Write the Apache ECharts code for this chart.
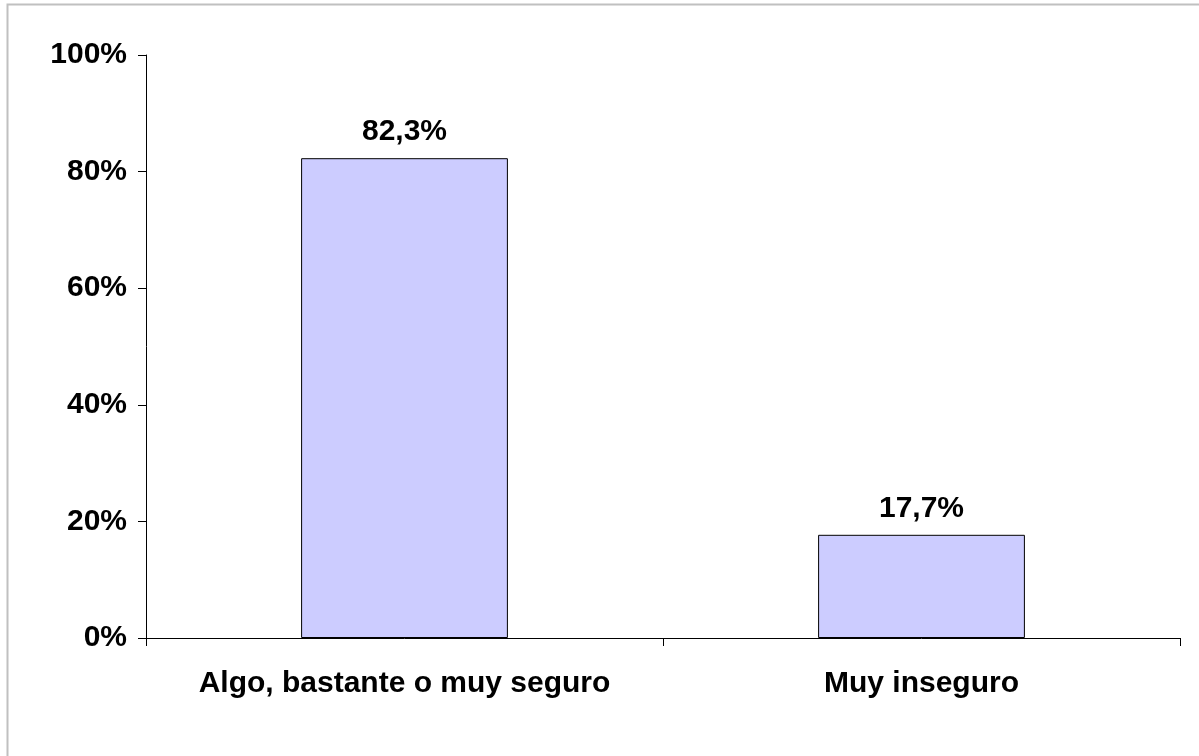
<!DOCTYPE html>
<html>
<head>
<meta charset="utf-8">
<script src="https://cdn.jsdelivr.net/npm/echarts@6/dist/echarts.min.js"></script>
<style>
html,body{margin:0;padding:0;background:#fff;}
#chart{width:1199px;height:756px;}
</style>
</head>
<body>
<div id="chart"></div>
<script>
const categories = ['Algo, bastante o muy seguro', 'Muy inseguro'];
const values = [82.3, 17.7];
const yTicks = [0, 20, 40, 60, 80, 100];

const chart = echarts.init(document.getElementById('chart'), null, {renderer: 'canvas'});
const font = '"Liberation Sans", Arial, sans-serif';
chart.setOption({
  animation: false,
  backgroundColor: '#ffffff',
  graphic: [{
    type: 'polyline',
    shape: {points: [[7.5, 756], [7.5, 4.5], [1199, 4.5]]},
    style: {stroke: '#c0c0c0', lineWidth: 2, fill: null},
    silent: true
  }],
  grid: {left: 146, right: 19, top: 55, bottom: 118, containLabel: false},
  xAxis: {
    type: 'category',
    data: categories,
    axisLine: {lineStyle: {color: '#000', width: 1}},
    axisTick: {show: true, interval: 0, alignWithLabel: false, length: 8, inside: false, lineStyle: {color: '#000'}},
    axisLabel: {interval: 0, hideOverlap: false, color: '#000', fontFamily: font, fontWeight: 'bold', fontSize: 30, margin: 31}
  },
  yAxis: {
    type: 'value',
    min: 0, max: 100, interval: 20,
    axisLine: {show: true, lineStyle: {color: '#000', width: 1}},
    axisTick: {show: true, length: 8, lineStyle: {color: '#000'}},
    splitLine: {show: false},
    axisLabel: {color: '#000', fontFamily: font, fontWeight: 'bold', fontSize: 30, margin: 19,
      formatter: v => yTicks.includes(v) ? v + '%' : ''}
  },
  series: [{
    type: 'bar',
    data: values,
    barWidth: '40%',
    itemStyle: {color: '#ccccff', borderColor: '#000', borderWidth: 1},
    label: {show: true, position: 'top', distance: 11, color: '#000', fontFamily: font, fontWeight: 'bold', fontSize: 30,
      formatter: p => p.value.toFixed(1).replace('.', ',') + '%'}
  }]
});
</script>
</body>
</html>
